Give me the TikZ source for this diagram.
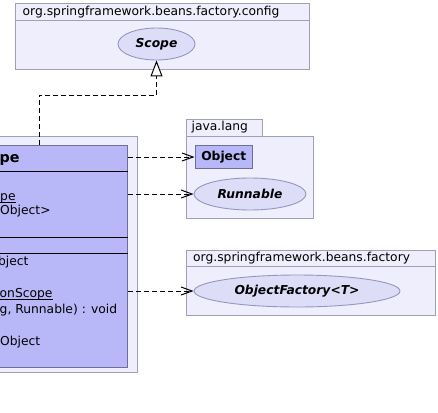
\documentclass[tikz,border=0pt]{standalone}
\usepackage{fontspec}
\setmainfont{DejaVu Sans}[ItalicFont={DejaVu Sans Oblique}, BoldFont={DejaVu Sans Bold}, BoldItalicFont={DejaVu Sans Bold Oblique}]
\usetikzlibrary{positioning, arrows.meta, shapes.geometric, calc}

\definecolor{pkgfill}{RGB}{238,238,252}
\definecolor{pkgline}{RGB}{160,160,180}
\definecolor{clsfill}{RGB}{184,184,248}
\definecolor{clsline}{RGB}{110,110,150}
\definecolor{iffill}{RGB}{221,221,248}
\definecolor{ifline}{RGB}{150,150,190}

\begin{document}
\begin{tikzpicture}[x=1pt, y=-1pt, font=\fontsize{12.3}{14}\selectfont,
	pkgbox/.style={rectangle, draw=pkgline, fill=pkgfill, line width=0.9pt, inner sep=0, anchor=north west},
	clsbox/.style={rectangle, draw=clsline, fill=clsfill, line width=1pt, inner sep=0},
	ifnode/.style={ellipse, draw=ifline, fill=iffill, line width=0.9pt, inner sep=0, font=\fontsize{12.3}{14}\selectfont\bfseries\itshape},
	member/.style={anchor=base west, inner sep=0},
	dep/.style={draw, line width=1pt, dash pattern=on 5pt off 3pt, -{Straight Barb[length=11pt, width=8pt]}},
	real/.style={draw, line width=1pt, dash pattern=on 5pt off 3pt, -{Triangle[open, length=16pt, width=12pt, fill=white]}}]
	\useasboundingbox (0,0) rectangle (438,412);
	\clip (0,0) rectangle (438,412);
	% package org.springframework.beans.factory.config
	\node[pkgbox, minimum width=294, minimum height=66] (cfgpkg) at (15,3) {};
	\draw[pkgline, line width=0.9pt] (15,20.5) -- (309,20.5);
	\node[anchor=west, inner sep=0] (cfgname) at (22.5,11.8) {org.springframework.beans.factory.config};
	\node[ifnode, minimum width=77, minimum height=32] (scope) at (156.5,44) {Scope};
	% package java.lang
	\node[pkgbox, minimum width=76, minimum height=17] (langtab) at (186,119) {};
	\node[pkgbox, minimum width=127, minimum height=82] (langpkg) at (186,136) {};
	\node[anchor=west, inner sep=0] (langname) at (191.5,127.5) {java.lang};
	\node[clsbox, minimum width=57.5, minimum height=23, anchor=north west, font=\fontsize{12.3}{14}\selectfont\bfseries] (obj) at (194.5,145) {Object};
	\node[ifnode, minimum width=112, minimum height=32] (run) at (250,194) {Runnable};
	% package org.springframework.beans.factory
	\node[pkgbox, minimum width=249, minimum height=65] (facpkg) at (186,250) {};
	\draw[pkgline, line width=0.9pt] (186,266.7) -- (435,266.7);
	\node[anchor=west, inner sep=0] (facname) at (193,258.5) {org.springframework.beans.factory};
	\node[ifnode, minimum width=206, minimum height=32] (of) at (297,291) {ObjectFactory<T>};
	% the class (cut at the left edge)
	\node[pkgbox, minimum width=157, minimum height=236.5] (clspkg) at (-20,135.5) {};
	\node[clsbox, minimum width=143.3, minimum height=221.7, anchor=north east] (cls) at (128.3,145) {};
	\draw[black, line width=1pt] (cls.west |- 0,171) -- (cls.east |- 0,171);
	\draw[black, line width=1pt] (cls.west |- 0,237) -- (cls.east |- 0,237);
	\draw[black, line width=1pt] (cls.west |- 0,253) -- (cls.east |- 0,253);
	\node[member, font=\fontsize{14.3}{16}\selectfont\bfseries] (clsname) at (-0.5,162.5) {pe};
	\node[member] (attr1) at (0,200) {pe};
	\draw[line width=0.9pt] ($(attr1.base west)+(0,2.3)$) -- ($(attr1.base east)+(0,2.3)$);
	\node[member] (attr2) at (0,214.5) {Object>};
	\node[member] (meth1) at (-11.8,265.5) {Object};
	\node[member] (meth2) at (-0.5,297.5) {onScope};
	\draw[line width=0.9pt] ($(meth2.base west)+(0,2.3)$) -- ($(meth2.base east)+(0,2.3)$);
	\node[member] (meth3) at (-0.5,313.5) {g, Runnable) : void};
	\node[member] (meth4) at (0,345) {Object};
	% realization to Scope
	\coordinate (bend1) at (39,95);
	\coordinate (bend2) at (156.5,95);
	\draw[real] (bend1 |- cls.north) -- (bend1) -- (bend2) -- (scope.south);
	% dependencies
	\draw[dep] (cls.east |- obj.west) -- (obj.west);
	\draw[dep] (cls.east |- run.west) -- (run.west);
	\draw[dep] (cls.east |- of.west) -- (of.west);
\end{tikzpicture}
\end{document}
